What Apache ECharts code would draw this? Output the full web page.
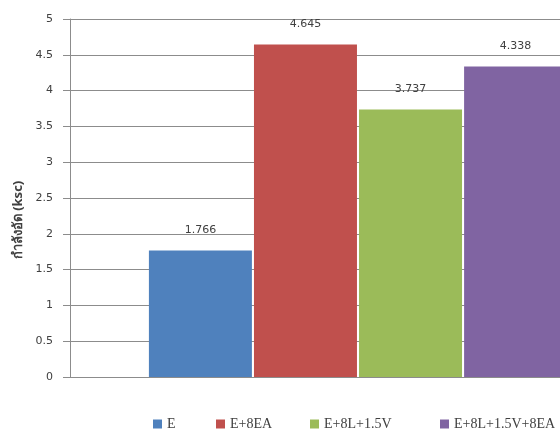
<!DOCTYPE html>
<html>
<head>
<meta charset="utf-8">
<script src="https://cdn.jsdelivr.net/npm/echarts@6/dist/echarts.min.js"></script>
<style>html,body{margin:0;padding:0;background:#fff}#c{width:560px;height:433px}</style>
</head>
<body>
<div id="c"></div>
<script>
const categories = [''];
const seriesNames = ['E', 'E+8EA', 'E+8L+1.5V', 'E+8L+1.5V+8EA'];
const seriesValues = [1.766, 4.645, 3.737, 4.338];
const colors = ['#4F81BD', '#C0504D', '#9BBB59', '#8064A2'];
const yTitle = 'กำลังอัด (ksc)';

const legendLefts = [153, 216, 310, 440];
const chart = echarts.init(document.getElementById('c'));
chart.setOption({
  animation: false,
  backgroundColor: '#fff',
  legend: seriesNames.map((n, i) => ({
    left: legendLefts[i], top: 417, padding: 0,
    itemWidth: 9, itemHeight: 9, itemGap: 0,
    icon: 'rect',
    textStyle: { fontFamily: 'Liberation Serif', fontSize: 14, color: '#404040' },
    data: [n]
  })),
  grid: { left: 70, top: 19, width: 576, bottom: 56, outerBoundsMode: 'none', containLabel: false },
  xAxis: {
    type: 'category', data: categories,
    axisLine: { lineStyle: { color: '#8c8c8c' } },
    axisTick: { show: false }, axisLabel: { show: false }
  },
  yAxis: {
    type: 'value', min: 0, max: 5, interval: 0.5,
    name: yTitle, nameLocation: 'middle', nameGap: 41,
    nameTextStyle: { fontFamily: 'Noto Sans', fontSize: 13, fontWeight: 'bold', color: '#404040', padding: [0, 44, 0, 0] },
    axisLine: { show: true, lineStyle: { color: '#8c8c8c' } },
    axisTick: { show: true, length: 7, lineStyle: { color: '#8c8c8c' } },
    axisLabel: { margin: 17, fontFamily: 'DejaVu Sans', fontSize: 11, color: '#404040' },
    splitLine: { lineStyle: { color: '#8c8c8c' } }
  },
  series: seriesNames.map((n, i) => ({
    name: n, type: 'bar', barWidth: 103, barGap: '2%',
    itemStyle: { color: colors[i] },
    label: { show: true, position: 'top', distance: 15, fontFamily: 'DejaVu Sans', fontSize: 11, color: '#404040',
      formatter: p => String(seriesValues[i]) },
    data: [seriesValues[i]]
  }))
});
</script>
</body>
</html>
